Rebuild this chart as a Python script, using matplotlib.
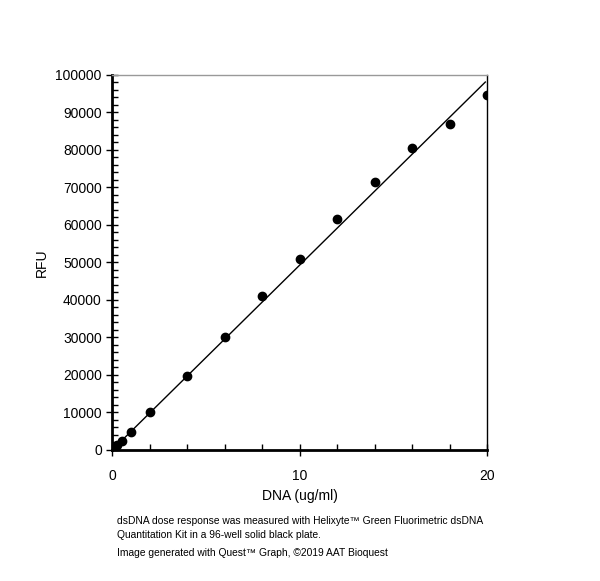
import numpy as np
import matplotlib
matplotlib.use("Agg")
from matplotlib import pyplot as plt
from matplotlib.ticker import MultipleLocator

plt.rcParams['font.family'] = ['Liberation Sans', 'DejaVu Sans']

# dsDNA standard curve
dna = [0, 0.125, 0.25, 0.5, 1, 2, 4, 6, 8, 10, 12, 14, 16, 18, 20]
rfu = [300, 700, 1300, 2400, 4700, 10000, 19700, 30000, 41000, 50800,
       61700, 71500, 80500, 87000, 94700]
fit_x = [0, 19.9]
slope = 4930

fig = plt.figure(figsize=(6, 5.81), dpi=100)
ax = fig.add_axes([0.187, 0.2255, 0.625, 0.6455])

ax.plot(fit_x, np.polyval([slope, 0], fit_x), color='black', lw=1)
ax.scatter(dna, rfu, s=36, color='black', zorder=3)

ax.set_xlim(0, 20)
ax.set_ylim(0, 100000)
ax.xaxis.set_major_locator(MultipleLocator(10))
ax.xaxis.set_minor_locator(MultipleLocator(2))
ax.yaxis.set_major_locator(MultipleLocator(10000))
ax.yaxis.set_minor_locator(MultipleLocator(2000))
ax.tick_params(which='major', direction='inout', length=8, width=1, labelsize=10)
ax.tick_params(which='minor', direction='in', length=4, width=1)
ax.tick_params(axis='x', which='major', pad=10)

ax.spines['left'].set_linewidth(2)
ax.spines['bottom'].set_linewidth(2)
ax.spines['top'].set_color('#999999')
ax.spines['top'].set_linewidth(1)
ax.spines['right'].set_linewidth(1)

ax.set_xlabel('DNA (ug/ml)', fontsize=10, labelpad=4)
ax.set_ylabel('RFU', fontsize=10, labelpad=5)

fig.text(117 / 600, 1 - 528 / 581,
         'dsDNA dose response was measured with Helixyte\u2122 Green Fluorimetric dsDNA\n'
         'Quantitation Kit in a 96-well solid black plate.',
         fontsize=7.4, va='center', linespacing=1.5)
fig.text(117 / 600, 1 - 553 / 581,
         'Image generated with Quest\u2122 Graph, \u00a92019 AAT Bioquest',
         fontsize=7.4, va='center')

fig.savefig('out.png', dpi=100)
